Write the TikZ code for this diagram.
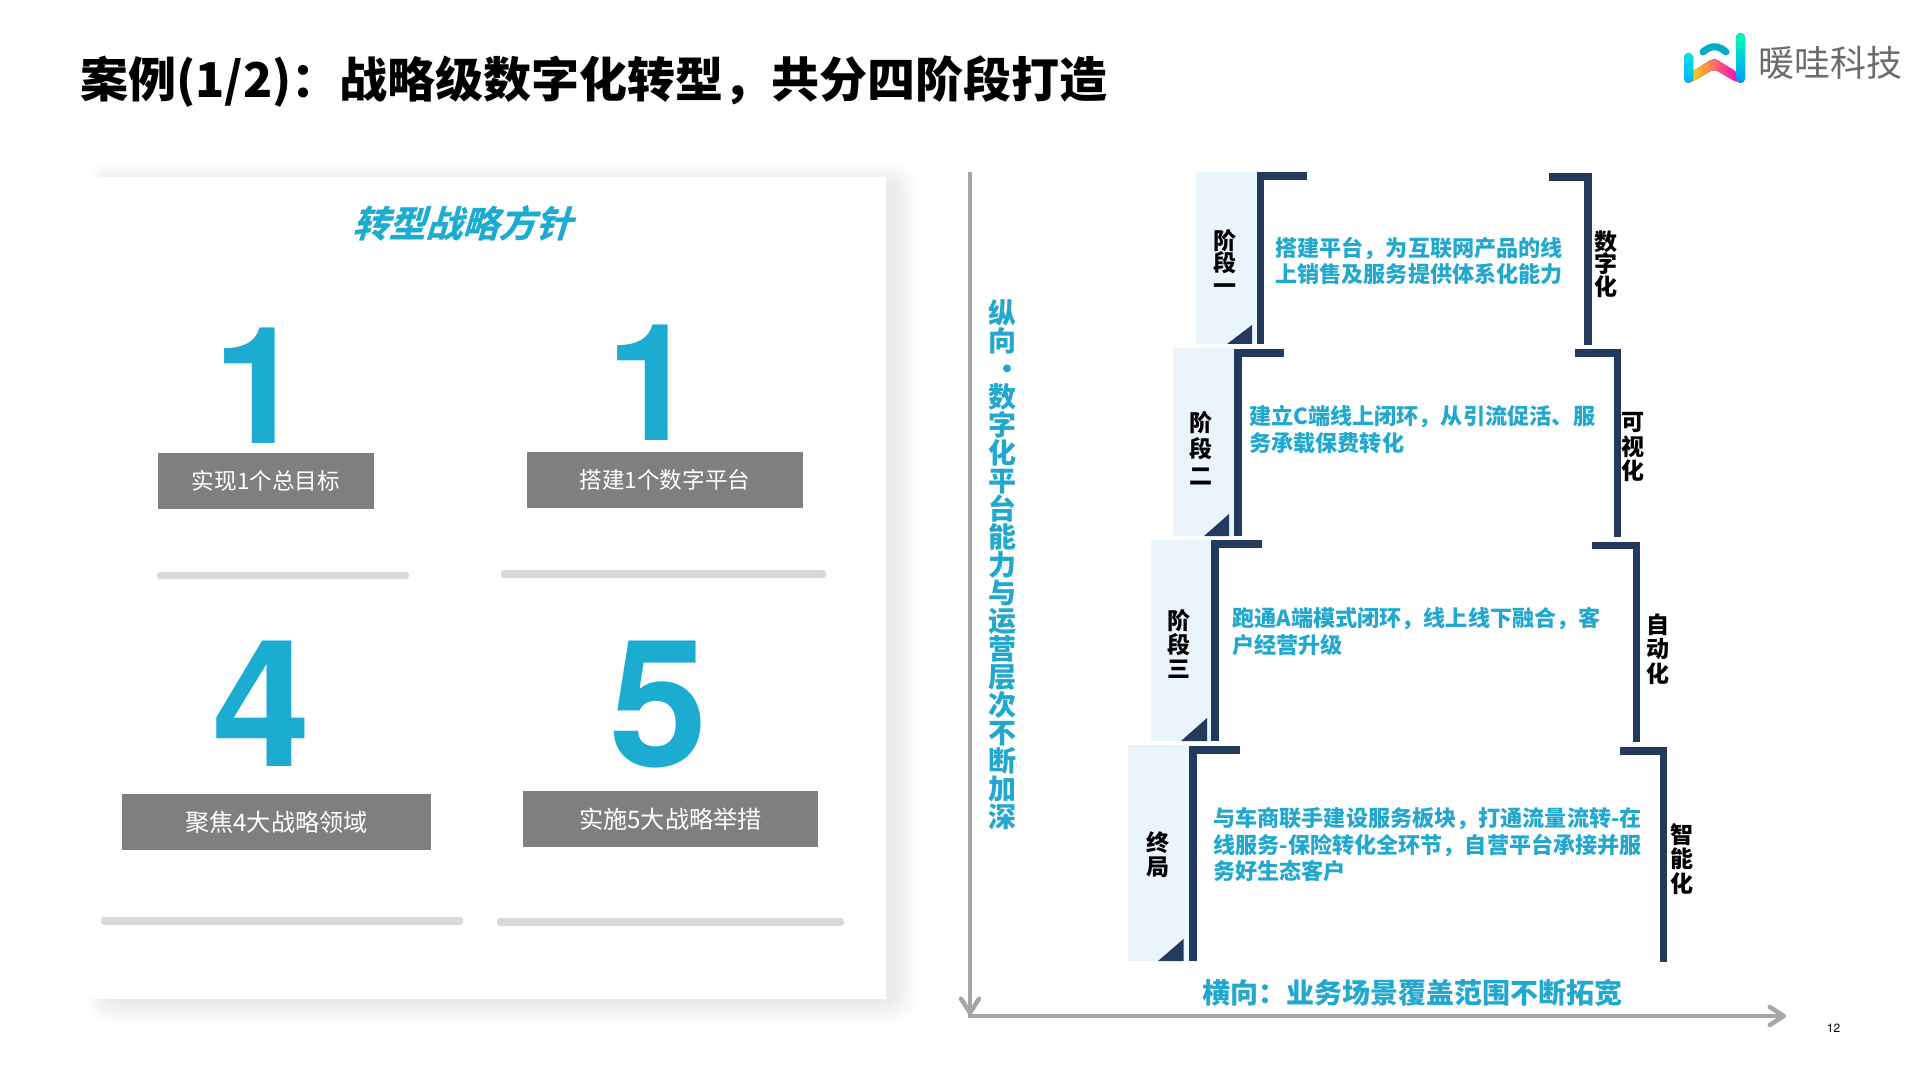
\documentclass[tikz,border=0pt]{standalone}
\usepackage{fontspec}
\setmainfont{Noto Sans CJK SC}
\newfontfamily\slantfont[FakeSlant=0.3,FakeBold=1]{Noto Sans CJK SC Bold}
\newfontfamily\numfont{TeX Gyre Heros}
\usetikzlibrary{arrows.meta}
\definecolor{tealtext}{HTML}{22A8CF}
\definecolor{tealnum}{HTML}{1CACD2}
\definecolor{tagfill}{HTML}{7F7F7F}
\definecolor{barfill}{HTML}{D9D9D9}
\definecolor{darkbar}{HTML}{223A5E}
\definecolor{stagefill}{HTML}{EAF5FB}
\definecolor{axisgrey}{HTML}{A6A6A6}
\tikzstyle{tagbox} = [rectangle, fill=tagfill, text=white, minimum height=28pt, inner sep=0pt, font=\fontsize{11.3pt}{13pt}\selectfont]
\tikzstyle{bignum} = [anchor=base, inner sep=0pt, text=tealnum, font=\numfont\bfseries\fontsize{88.5pt}{90pt}\selectfont]
\tikzstyle{tallnum} = [bignum, font=\numfont\bfseries\fontsize{81.5pt}{90pt}\selectfont]
\tikzstyle{graybar} = [fill=barfill, rounded corners=1.5pt]
\tikzstyle{stagebox} = [fill=stagefill]
\tikzstyle{bracket} = [draw=darkbar, line width=3.75pt]
\tikzstyle{corner} = [fill=darkbar]
\tikzstyle{stagetext} = [anchor=west, align=left, inner sep=0pt, text=tealtext, font=\fontsize{11.05pt}{13.25pt}\selectfont\bfseries]
\tikzstyle{stagelabel} = [align=center, inner sep=0pt, font=\fontsize{11.5pt}{12.2pt}\selectfont\bfseries]
\tikzstyle{axis} = [draw=axisgrey, line width=2.25pt, -{Straight Barb[length=7pt,width=9pt,round]}]

\begin{document}
\begin{tikzpicture}[x=0.5pt, y=-0.5pt]
  \useasboundingbox (0,0) rectangle (1920,1080);
  \fill[white] (0,0) rectangle (1920,1080);

  \node(title)[anchor=west, inner sep=0pt, font=\fontsize{24pt}{28pt}\selectfont\bfseries] at (80,82) {案例(1/2)：战略级数字化转型，共分四阶段打造};

  % logo
  \fill[left color=yellow!70!orange, middle color=orange!70!red!80!yellow, right color=magenta!80!red, rounded corners=2pt] (1690,73)--(1714,58)--(1738,73)--(1738,83)--(1714,69)--(1690,83)--cycle;
  \fill[top color=cyan!80!teal, bottom color=blue!30!cyan, rounded corners=2.3pt] (1684,53) rectangle (1693,83);
  \fill[top color=cyan!70!green, bottom color=blue!40!cyan, rounded corners=2.3pt] (1736,33) rectangle (1745,83);
  \draw[cyan!75!green, line width=3.5pt, line cap=round] (1703,52) .. controls (1711,45) and (1718,45) .. (1726,52);
  \node(logotext)[anchor=west, inner sep=0pt, text=black!58, font=\fontsize{18pt}{20pt}\selectfont] at (1758,63) {暖哇科技};

  % left panel
  \foreach \r in {1,...,20}
    \fill[black, opacity=0.004, rounded corners=10pt] ({106-\r},{183-\r}) rectangle ({896+\r},{1003+\r});
  \fill[white] (89,177) rectangle (886,999);

  \node(head)[inner sep=0pt, text=tealnum, font=\slantfont\fontsize{18.3pt}{20pt}\selectfont] at (462,223) {转型战略方针};

  \node(one)[tallnum] at (259,443) {1};
  \node(two)[tallnum] at (652,440) {1};
  \node(four)[bignum] at (261.5,766) {4};
  \node(five)[bignum] at (659,766) {5};

  \node(taga)[tagbox, minimum width=108pt] at (266,481) {实现1个总目标};
  \node(tagb)[tagbox, minimum width=138pt] at (665,480) {搭建1个数字平台};
  \node(tagc)[tagbox, minimum width=154.5pt, font=\fontsize{12.1pt}{14pt}\selectfont] at (276.5,822) {聚焦4大战略领域};
  \node(tagd)[tagbox, minimum width=147.5pt, font=\fontsize{12.1pt}{14pt}\selectfont] at (670.5,819) {实施5大战略举措};

  \fill[graybar] (157,572) rectangle (409,579);
  \fill[graybar] (501,570) rectangle (826,578);
  \fill[graybar] (101,917) rectangle (463,925);
  \fill[graybar] (497,918) rectangle (844,926);

  % stages
  \fill[stagebox] (1196,172) rectangle (1257,344);
  \fill[stagebox] (1173,348) rectangle (1234,536);
  \fill[stagebox] (1151,540) rectangle (1212,741);
  \fill[stagebox] (1128,745) rectangle (1189,961);

  \draw[bracket] (1307,176)--(1260.5,176)--(1260.5,344);
  \draw[bracket] (1549,177)--(1588,177)--(1588,345);
  \draw[bracket] (1284,353)--(1238,353)--(1238,536);
  \draw[bracket] (1575,353)--(1617.5,353)--(1617.5,537);
  \draw[bracket] (1262,544)--(1215,544)--(1215,741);
  \draw[bracket] (1592,545.5)--(1636.5,545.5)--(1636.5,742);
  \draw[bracket] (1240,750)--(1193,750)--(1193,961);
  \draw[bracket] (1620,751)--(1663.5,751)--(1663.5,962);

  \fill[corner] (1227,344)--(1252,344)--(1252,325)--cycle;
  \fill[corner] (1204,536)--(1229,536)--(1229,514)--cycle;
  \fill[corner] (1181,741)--(1207,741)--(1207,718)--cycle;
  \fill[corner] (1158,961)--(1183.5,961)--(1183.5,939)--cycle;

  \node(labela)[stagelabel, font=\fontsize{11.5pt}{11.3pt}\selectfont\bfseries] at (1225,262) {阶\\段\\一};
  \node(labelb)[stagelabel, font=\fontsize{11.5pt}{13.2pt}\selectfont\bfseries] at (1201,448) {阶\\段\\二};
  \node(labelc)[stagelabel] at (1179,644) {阶\\段\\三};
  \node(labeld)[stagelabel] at (1157.5,854.5) {终\\局};

  \node(stagea)[stagetext] at (1275,261) {搭建平台，为互联网产品的线\\上销售及服务提供体系化能力};
  \node(stageb)[stagetext] at (1249,429.5) {建立C端线上闭环，从引流促活、服\\务承载保费转化};
  \node(stagec)[stagetext] at (1232,631.5) {跑通A端模式闭环，线上线下融合，客\\户经营升级};
  \node(staged)[stagetext] at (1213,845) {与车商联手建设服务板块，打通流量流转-在\\线服务-保险转化全环节，自营平台承接并服\\务好生态客户};

  \node(sidea)[stagelabel, font=\fontsize{11.5pt}{11.3pt}\selectfont\bfseries] at (1606,264) {数\\字\\化};
  \node(sideb)[stagelabel] at (1632.5,447) {可\\视\\化};
  \node(sidec)[stagelabel] at (1658,649) {自\\动\\化};
  \node(sided)[stagelabel] at (1682,859) {智\\能\\化};

  % axes
  \coordinate(ytop) at (970,172);
  \coordinate(ybot) at (970,1015);
  \coordinate(xleft) at (968,1016);
  \coordinate(xright) at (1786,1016);
  \draw[axis] (ytop)--(ybot);
  \draw[axis] (xleft)--(xright);

  \node(yaxis)[align=center, inner sep=0pt, text=tealtext, font=\fontsize{14pt}{14pt}\selectfont\bfseries] at (1002,565) {纵\\向\\\kern.4em·\\数\\字\\化\\平\\台\\能\\力\\与\\运\\营\\层\\次\\不\\断\\加\\深};
  \node(xaxis)[inner sep=0pt, text=tealtext, font=\fontsize{14pt}{16pt}\selectfont\bfseries] at (1412,993) {横向：业务场景覆盖范围不断拓宽};

  \node(page)[inner sep=0pt, font=\numfont\fontsize{6pt}{7pt}\selectfont] at (1833.5,1028) {12};
\end{tikzpicture}
\end{document}
